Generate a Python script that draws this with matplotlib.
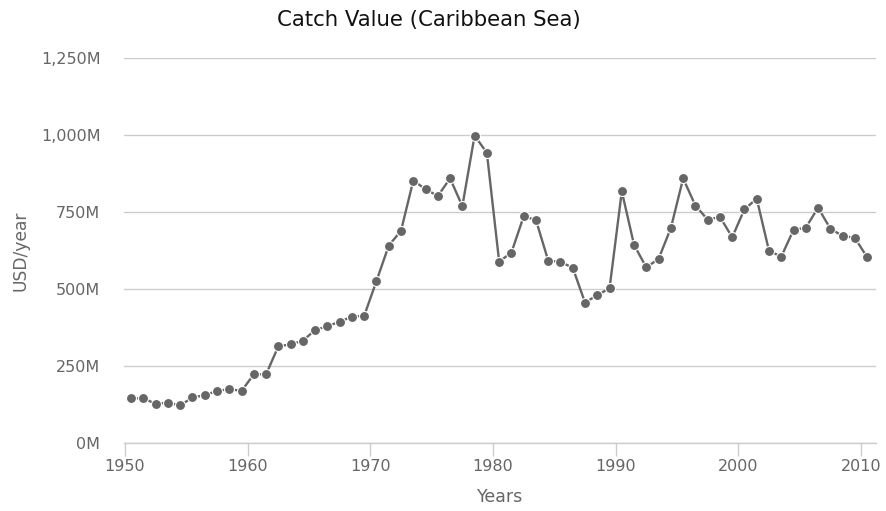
import numpy as np
import matplotlib.pyplot as plt
from matplotlib.ticker import FuncFormatter

# annual catch value, million USD
years = list(range(1950, 2011))
values = [145, 145, 127, 131, 122, 148, 155, 169, 175, 169,
          223, 223, 314, 320, 332, 367, 379, 394, 410, 413,
          526, 641, 689, 852, 824, 802, 859, 769, 998, 942,
          589, 618, 736, 724, 592, 588, 569, 456, 480, 502,
          817, 643, 570, 598, 698, 859, 771, 725, 734, 668,
          759, 793, 624, 605, 692, 699, 764, 696, 672, 666,
          603]
yticks = [0, 250, 500, 750, 1000, 1250]
xticks = [1950, 1960, 1970, 1980, 1990, 2000, 2010]

plt.rcParams['font.family'] = ['DejaVu Sans']

fig = plt.figure(figsize=(8.86, 5.11), dpi=100)
ax = fig.add_axes([0.14, 0.1331, 0.8484, 0.7534])

# points sit mid-year
x = np.array(years) + 0.5
ax.plot(x, values, color='#666666', linewidth=1.7, marker='o', markersize=7.2,
        markeredgecolor='white', markeredgewidth=0.8, zorder=3)

ax.set_xlim(1949.92, 2011.2)
ax.set_ylim(0, 1250)
ax.set_xticks(xticks)
ax.set_yticks(yticks)
ax.yaxis.set_major_formatter(FuncFormatter(lambda v, p: '{:,.0f}M'.format(v)))

ax.grid(axis='y', color='#cccccc', linewidth=1)
ax.set_axisbelow(True)
for s in ['top', 'right', 'left']:
    ax.spines[s].set_visible(False)
ax.spines['bottom'].set_color('#cccccc')
ax.spines['bottom'].set_linewidth(1)

ax.tick_params(axis='x', direction='out', length=9.5, width=1, color='#cccccc',
               labelcolor='#666666', labelsize=11.5, pad=2)
ax.tick_params(axis='y', length=0, labelcolor='#666666', labelsize=11.5, pad=17)

ax.set_xlabel('Years', color='#666666', fontsize=12.5, labelpad=10)
ax.set_ylabel('USD/year', color='#666666', fontsize=12.3, labelpad=8)
fig.text(428.5 / 886, 1 - 20 / 511, 'Catch Value (Caribbean Sea)', fontsize=15.3,
         color='#111111', ha='center', va='center')

fig.savefig('out.png', dpi=100)
